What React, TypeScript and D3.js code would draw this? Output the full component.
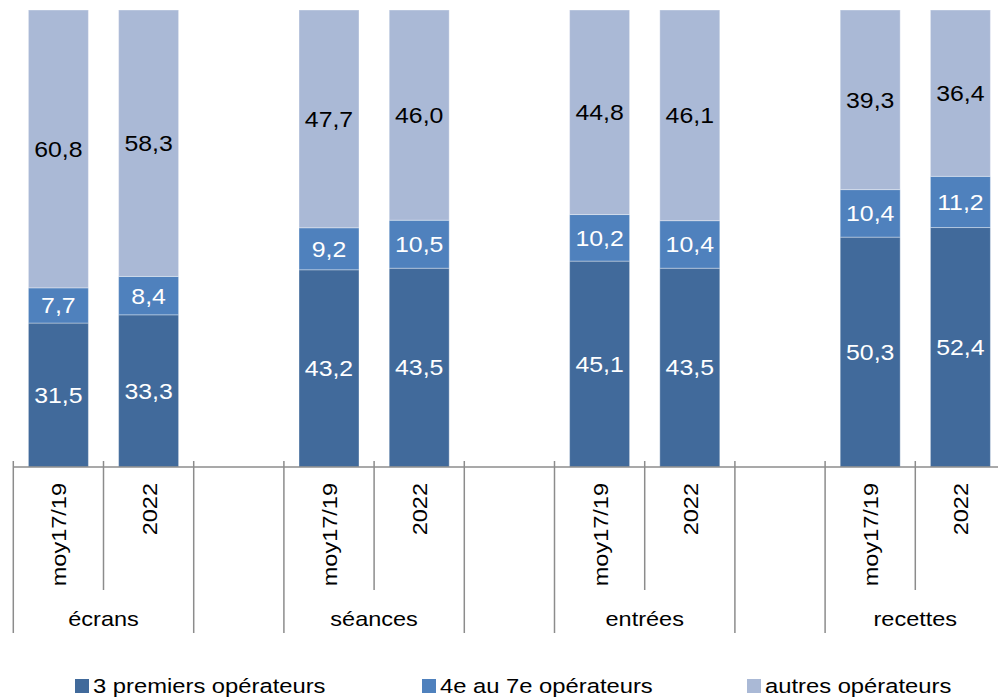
import * as d3 from "d3";

const groups = ["écrans", "séances", "entrées", "recettes"];
const periods = ["moy17/19", "2022"];
const seriesNames = ["3 premiers opérateurs", "4e au 7e opérateurs", "autres opérateurs"];
const seriesColors = ["#416A9B", "#4F81BD", "#AAB9D6"];
const labelColors = ["#ffffff", "#ffffff", "#000000"];

// values per group, [moy17/19, 2022]
const top3 = [
  [31.5, 33.3],
  [43.2, 43.5],
  [45.1, 43.5],
  [50.3, 52.4],
];
const mid4to7 = [
  [7.7, 8.4],
  [9.2, 10.5],
  [10.2, 10.4],
  [10.4, 11.2],
];
const others = [
  [60.8, 58.3],
  [47.7, 46.0],
  [44.8, 46.1],
  [39.3, 36.4],
];

const W = 998;
const H = 697;
const X0 = 13.3;
const SLOT = 90.2;
const AXIS_Y = 467;
const TOP_Y = 10;
const FONT = "'Liberation Sans', Arial, sans-serif";

type Slot = { key: string; group: number; period: number };

const slots: Slot[] = [];
groups.forEach((g, gi) => {
  periods.forEach((p, pi) => slots.push({ key: `${g}|${p}`, group: gi, period: pi }));
  if (gi < groups.length - 1) slots.push({ key: `gap${gi}`, group: -1, period: -1 });
});

const fmt = (v: number) => v.toFixed(1).replace(".", ",");

const Txt = ({
  x,
  y,
  children,
  size = 20,
  sx = 1.1,
  rotate = 0,
  anchor = "middle",
  fill = "#000",
}: any) => (
  <text
    transform={`translate(${x},${y}) rotate(${rotate}) scale(${sx},1)`}
    fontSize={size}
    textAnchor={anchor}
    fill={fill}
    fontFamily={FONT}
  >
    {children}
  </text>
);

export default function App() {
  const xScale = d3
    .scaleBand<string>()
    .domain(slots.map((s) => s.key))
    .range([X0, X0 + SLOT * slots.length])
    .padding(0);
  const band = xScale.bandwidth();
  const barW = band * 0.665;

  const yScale = d3.scaleLinear().domain([0, 1]).range([AXIS_Y, TOP_Y]);

  const rows = slots
    .filter((s) => s.group >= 0)
    .map((s) => ({
      key: s.key,
      s0: top3[s.group][s.period],
      s1: mid4to7[s.group][s.period],
      s2: others[s.group][s.period],
    }));

  const stacked = d3
    .stack<any>()
    .keys(["s0", "s1", "s2"])
    .offset(d3.stackOffsetExpand)(rows);

  const bars = stacked.map((serie, si) =>
    serie.map((d, i) => {
      const row = rows[i];
      const x = xScale(row.key)! + (band - barW) / 2;
      const y1 = yScale(d[1]);
      const y0 = yScale(d[0]);
      const raw = (row as any)[serie.key];
      const size = 22;
      return (
        <g key={`${si}-${i}`}>
          <rect
            x={x}
            y={y1}
            width={barW}
            height={y0 - y1}
            fill={seriesColors[si]}
            stroke="#ffffff"
            strokeOpacity={0.35}
            strokeWidth={1}
          />
          <Txt
            x={x + barW / 2}
            y={(y0 + y1) / 2 + size * 0.358}
            size={size}
            sx={1.13}
            fill={labelColors[si]}
          >
            {fmt(raw)}
          </Txt>
        </g>
      );
    })
  );

  // ticks on slot boundaries
  const ticks = d3.range(slots.length + 1).map((k) => {
    const x = X0 + k * band;
    const prev = slots[k - 1];
    const next = slots[k];
    const inner = prev && next && prev.group >= 0 && prev.group === next.group;
    return (
      <line
        key={k}
        x1={x}
        x2={x}
        y1={461}
        y2={inner ? 590 : 633}
        stroke="#8c8c8c"
        strokeWidth={1.5}
      />
    );
  });

  const periodLabels = slots
    .filter((s) => s.group >= 0)
    .map((s) => {
      const cx = xScale(s.key)! + band / 2;
      return (
        <Txt key={s.key} x={cx + 8} y={483} rotate={-90} size={21} sx={1.12} anchor="end">
          {periods[s.period]}
        </Txt>
      );
    });

  const groupLabels = groups.map((g) => {
    const a = xScale(`${g}|${periods[0]}`)!;
    const b = xScale(`${g}|${periods[1]}`)! + band;
    return (
      <Txt key={g} x={(a + b) / 2} y={626} size={21} sx={1.12}>
        {g}
      </Txt>
    );
  });

  const legendX = [75, 422, 747];
  const legend = seriesNames.map((name, i) => (
    <g key={name}>
      <rect x={legendX[i]} y={679} width={14} height={14} fill={seriesColors[i]} />
      <Txt x={legendX[i] + 18} y={693} size={20.5} sx={1.16} anchor="start">
        {name}
      </Txt>
    </g>
  ));

  return (
    <svg
      width={W}
      height={H}
      style={{ position: "absolute", left: 0, top: 0, background: "#fff" }}
    >
      <g>{bars}</g>
      <line x1={X0} x2={W} y1={AXIS_Y} y2={AXIS_Y} stroke="#8c8c8c" strokeWidth={1.5} />
      <g>{ticks}</g>
      <g>{periodLabels}</g>
      <g>{groupLabels}</g>
      <g>{legend}</g>
    </svg>
  );
}
